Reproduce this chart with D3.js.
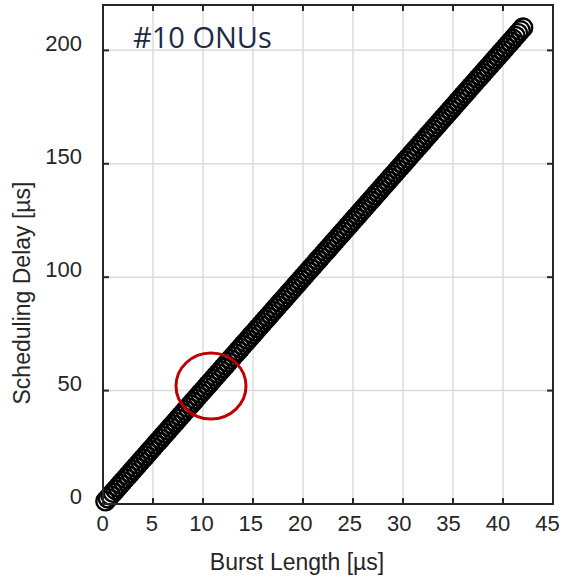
<!DOCTYPE html>
<html lang="en">
<head>
	<meta charset="utf-8">
	<title>Scheduling Delay</title>
	<script src="https://d3js.org/d3.v7.min.js"></script>
	<style>
	body { margin: 0; background: #fff; }
	.grid line { stroke: #dcdcdc; stroke-width: 1.5px; }
	.tick-label { font-family: "Liberation Sans", Arial, sans-serif; font-size: 22px; fill: #262626; }
	.axis-title { font-family: "Liberation Sans", Arial, sans-serif; font-size: 23px; fill: #262626; }
	</style>
</head>
<body>
	<script>
		// burst length [us]
		var burst = [0.25, 0.5, 0.75, 1, 1.25, 1.5, 1.75, 2, 2.25, 2.5, 2.75, 3, 3.25, 3.5, 3.75, 4, 4.25, 4.5, 4.75, 5,
			5.25, 5.5, 5.75, 6, 6.25, 6.5, 6.75, 7, 7.25, 7.5, 7.75, 8, 8.25, 8.5, 8.75, 9, 9.25, 9.5, 9.75, 10,
			10.25, 10.5, 10.75, 11, 11.25, 11.5, 11.75, 12, 12.25, 12.5, 12.75, 13, 13.25, 13.5, 13.75, 14, 14.25, 14.5, 14.75, 15,
			15.25, 15.5, 15.75, 16, 16.25, 16.5, 16.75, 17, 17.25, 17.5, 17.75, 18, 18.25, 18.5, 18.75, 19, 19.25, 19.5, 19.75, 20,
			20.25, 20.5, 20.75, 21, 21.25, 21.5, 21.75, 22, 22.25, 22.5, 22.75, 23, 23.25, 23.5, 23.75, 24, 24.25, 24.5, 24.75, 25,
			25.25, 25.5, 25.75, 26, 26.25, 26.5, 26.75, 27, 27.25, 27.5, 27.75, 28, 28.25, 28.5, 28.75, 29, 29.25, 29.5, 29.75, 30,
			30.25, 30.5, 30.75, 31, 31.25, 31.5, 31.75, 32, 32.25, 32.5, 32.75, 33, 33.25, 33.5, 33.75, 34, 34.25, 34.5, 34.75, 35,
			35.25, 35.5, 35.75, 36, 36.25, 36.5, 36.75, 37, 37.25, 37.5, 37.75, 38, 38.25, 38.5, 38.75, 39, 39.25, 39.5, 39.75, 40,
			40.25, 40.5, 40.75, 41, 41.25, 41.5, 41.75, 42];
		// scheduling delay [us]
		var delay = [1.25, 2.5, 3.75, 5, 6.25, 7.5, 8.75, 10, 11.25, 12.5, 13.75, 15, 16.25, 17.5, 18.75, 20, 21.25, 22.5, 23.75, 25,
			26.25, 27.5, 28.75, 30, 31.25, 32.5, 33.75, 35, 36.25, 37.5, 38.75, 40, 41.25, 42.5, 43.75, 45, 46.25, 47.5, 48.75, 50,
			51.25, 52.5, 53.75, 55, 56.25, 57.5, 58.75, 60, 61.25, 62.5, 63.75, 65, 66.25, 67.5, 68.75, 70, 71.25, 72.5, 73.75, 75,
			76.25, 77.5, 78.75, 80, 81.25, 82.5, 83.75, 85, 86.25, 87.5, 88.75, 90, 91.25, 92.5, 93.75, 95, 96.25, 97.5, 98.75, 100,
			101.25, 102.5, 103.75, 105, 106.25, 107.5, 108.75, 110, 111.25, 112.5, 113.75, 115, 116.25, 117.5, 118.75, 120, 121.25, 122.5, 123.75, 125,
			126.25, 127.5, 128.75, 130, 131.25, 132.5, 133.75, 135, 136.25, 137.5, 138.75, 140, 141.25, 142.5, 143.75, 145, 146.25, 147.5, 148.75, 150,
			151.25, 152.5, 153.75, 155, 156.25, 157.5, 158.75, 160, 161.25, 162.5, 163.75, 165, 166.25, 167.5, 168.75, 170, 171.25, 172.5, 173.75, 175,
			176.25, 177.5, 178.75, 180, 181.25, 182.5, 183.75, 185, 186.25, 187.5, 188.75, 190, 191.25, 192.5, 193.75, 195, 196.25, 197.5, 198.75, 200,
			201.25, 202.5, 203.75, 205, 206.25, 207.5, 208.75, 210];

		var xTicks = [0, 5, 10, 15, 20, 25, 30, 35, 40, 45];
		var yTicks = [0, 50, 100, 150, 200];
		var xDomain = [0, 45];
		var yDomain = [0, 220];

		var titleText = "#10 ONUs";
		var xLabel = "Burst Length [µs]";
		var yLabel = "Scheduling Delay [µs]";
		// highlighted point (red ring)
		var highlight = [10.8, 52];

		var w = 562, h = 576;
		var mLeft = 103, mRight = 553, mTop = 5, mBottom = 504;

		var svg = d3.select("body").append("svg")
			.attr("width", w)
			.attr("height", h);

		var x = d3.scaleLinear().domain(xDomain).range([mLeft, mRight]);
		var y = d3.scaleLinear().domain(yDomain).range([mBottom, mTop]);
		// tick labels sit on a slightly tighter spacing than the ticks
		var xLab = d3.scaleLinear().domain(xDomain).range([mLeft - 0.5, mRight - 5.5]);

		// grid
		var grid = svg.append("g").attr("class", "grid");
		grid.selectAll(".gx")
			.data(xTicks.filter(function(d) { return d > 0 && d < 45; }))
			.enter().append("line")
			.attr("x1", function(d) { return x(d); })
			.attr("x2", function(d) { return x(d); })
			.attr("y1", mTop).attr("y2", mBottom);
		grid.selectAll(".gy")
			.data(yTicks.filter(function(d) { return d > 0; }))
			.enter().append("line")
			.attr("y1", function(d) { return y(d); })
			.attr("y2", function(d) { return y(d); })
			.attr("x1", mLeft).attr("x2", mRight);

		// markers
		svg.append("g").selectAll("circle")
			.data(burst)
			.enter().append("circle")
			.attr("cx", function(d) { return x(d); })
			.attr("cy", function(d, i) { return y(delay[i]); })
			.attr("r", 9.2)
			.style("fill", "none")
			.style("stroke", "#000")
			.style("stroke-width", 2.4);

		// frame with inward ticks on all sides
		var tl = 6;
		var frame = svg.append("g").style("stroke", "#262626").style("stroke-width", 2);
		frame.append("rect")
			.attr("x", mLeft).attr("y", mTop)
			.attr("width", mRight - mLeft).attr("height", mBottom - mTop)
			.style("fill", "none");
		xTicks.forEach(function(d) {
			frame.append("line").attr("x1", x(d)).attr("x2", x(d)).attr("y1", mBottom).attr("y2", mBottom - tl);
			frame.append("line").attr("x1", x(d)).attr("x2", x(d)).attr("y1", mTop).attr("y2", mTop + tl);
		});
		yTicks.forEach(function(d) {
			frame.append("line").attr("y1", y(d)).attr("y2", y(d)).attr("x1", mLeft).attr("x2", mLeft + tl);
			frame.append("line").attr("y1", y(d)).attr("y2", y(d)).attr("x1", mRight).attr("x2", mRight - tl);
		});

		// tick labels
		svg.append("g").selectAll("text")
			.data(xTicks)
			.enter().append("text")
			.attr("class", "tick-label")
			.attr("x", function(d) { return xLab(d); })
			.attr("y", mBottom + 27)
			.attr("text-anchor", "middle")
			.text(function(d) { return d; });
		svg.append("g").selectAll("text")
			.data(yTicks)
			.enter().append("text")
			.attr("class", "tick-label")
			.attr("x", mLeft - 21)
			.attr("y", function(d) { return y(d) - 7.5; })
			.attr("dy", "0.35em")
			.attr("text-anchor", "end")
			.text(function(d) { return d; });

		// axis titles
		svg.append("text")
			.attr("class", "axis-title")
			.attr("x", 297)
			.attr("y", 570)
			.attr("text-anchor", "middle")
			.text(xLabel);
		svg.append("text")
			.attr("class", "axis-title")
			.attr("transform", "translate(30,293) rotate(-90)")
			.attr("text-anchor", "middle")
			.text(yLabel);

		// in-plot title
		svg.append("text")
			.attr("x", 133)
			.attr("y", 48)
			.style("font-family", "'Open Sans', sans-serif")
			.style("font-size", "29px")
			.style("fill", "#1f2a44")
			.text(titleText);

		// red ring annotation
		svg.append("ellipse")
			.attr("cx", x(highlight[0]))
			.attr("cy", y(highlight[1]))
			.attr("rx", 35)
			.attr("ry", 33)
			.style("fill", "none")
			.style("stroke", "#c00000")
			.style("stroke-width", 3);
	</script>
</body>
</html>
